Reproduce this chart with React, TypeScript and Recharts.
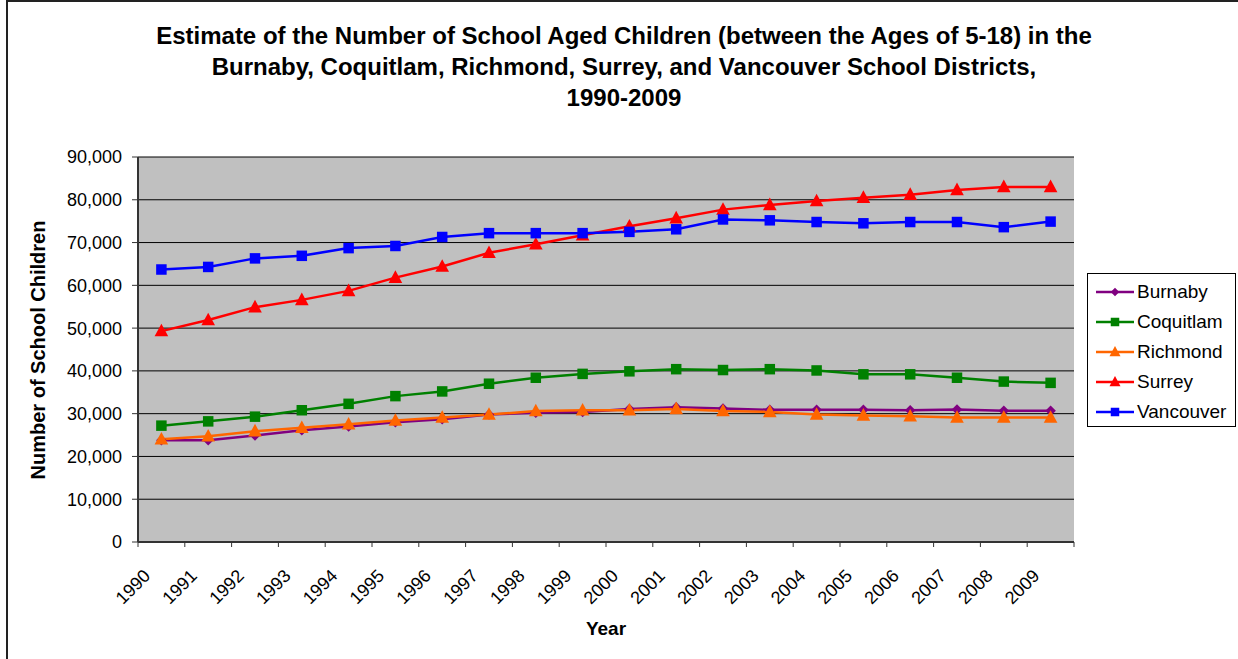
import { LineChart, Line, XAxis, YAxis, CartesianGrid } from 'recharts'

const years = [
  '1990', '1991', '1992', '1993', '1994', '1995', '1996', '1997', '1998', '1999',
  '2000', '2001', '2002', '2003', '2004', '2005', '2006', '2007', '2008', '2009',
]

const burnaby = [23800, 23800, 24900, 26100, 27000, 28000, 28700, 29800, 30200, 30400, 31100, 31500, 31200, 30900, 30900, 30900, 30800, 31000, 30700, 30700]
const coquitlam = [27200, 28200, 29300, 30800, 32300, 34100, 35200, 37000, 38400, 39300, 39900, 40400, 40200, 40400, 40100, 39200, 39200, 38400, 37500, 37200]
const richmond = [24000, 24700, 25900, 26700, 27500, 28400, 29100, 29800, 30600, 30800, 30800, 31100, 30600, 30400, 29800, 29600, 29400, 29100, 29100, 29100]
const surrey = [49300, 51900, 54900, 56600, 58700, 61800, 64400, 67600, 69600, 71700, 73800, 75700, 77700, 78800, 79700, 80500, 81200, 82300, 83000, 83000]
const vancouver = [63700, 64300, 66300, 66900, 68700, 69200, 71300, 72200, 72200, 72200, 72500, 73100, 75400, 75200, 74800, 74500, 74800, 74800, 73600, 74900]

const yTicks = [0, 10000, 20000, 30000, 40000, 50000, 60000, 70000, 80000, 90000]

type Shape = 'diamond' | 'square' | 'triangle'

const seriesList: { name: string; values: number[]; color: string; shape: Shape }[] = [
  { name: 'Burnaby', values: burnaby, color: '#800080', shape: 'diamond' },
  { name: 'Coquitlam', values: coquitlam, color: '#008000', shape: 'square' },
  { name: 'Richmond', values: richmond, color: '#FF6600', shape: 'triangle' },
  { name: 'Surrey', values: surrey, color: '#FF0000', shape: 'triangle' },
  { name: 'Vancouver', values: vancouver, color: '#0000FF', shape: 'square' },
]

const data = years.map((year, i) => {
  const row: Record<string, string | number> = { year }
  seriesList.forEach((s) => { row[s.name] = s.values[i] })
  return row
})

const FONT = "Arial, 'Liberation Sans', sans-serif"
const CHART_W = 1238
const CHART_H = 659
const MARGIN = { top: 157, right: 164, bottom: 17, left: 0 }
const Y_W = 138
const PLOT_W = CHART_W - MARGIN.left - MARGIN.right - Y_W
const HALF = PLOT_W / years.length / 2

function Marker({ shape, color, cx, cy, big = true }: { shape: Shape; color: string; cx: number; cy: number; big?: boolean }) {
  const k = big ? 1.05 : 0.85
  if (shape === 'square') {
    const s = 5 * k
    return <rect x={cx - s} y={cy - s} width={s * 2} height={s * 2} fill={color} />
  }
  if (shape === 'triangle') {
    const w = 6.5 * k
    return <polygon points={`${cx},${cy - 7 * k} ${cx + w},${cy + 5 * k} ${cx - w},${cy + 5 * k}`} fill={color} />
  }
  const d = 5 * k
  return <polygon points={`${cx},${cy - d} ${cx + d},${cy} ${cx},${cy + d} ${cx - d},${cy}`} fill={color} />
}

function YearTick(props: any) {
  const { x, y, payload, index } = props
  const last = index === years.length - 1
  const ax = x - 10
  const ay = y + 35
  return (
    <g>
      <line x1={x - HALF} y1={y} x2={x - HALF} y2={y + 5} stroke="#333" />
      {last && <line x1={x + HALF} y1={y} x2={x + HALF} y2={y + 5} stroke="#333" />}
      <text
        x={ax}
        y={ay}
        textAnchor="end"
        transform={`rotate(-45 ${ax} ${ay})`}
        fontSize={18}
        fontFamily={FONT}
        fill="#000"
      >
        {payload.value}
      </text>
    </g>
  )
}

function LegendBox() {
  return (
    <div style={{
      position: 'absolute', left: 1087, top: 273, width: 147, height: 149,
      border: '1px solid #000', background: '#fff', paddingTop: 3, boxSizing: 'content-box',
    }}>
      {seriesList.map((s) => (
        <div key={s.name} style={{ height: 30, display: 'flex', alignItems: 'center' }}>
          <svg width={48} height={16} style={{ marginLeft: 7 }}>
            <line x1={1} y1={8} x2={39} y2={8} stroke={s.color} strokeWidth={2.5} />
            <Marker shape={s.shape} color={s.color} cx={20} cy={8} big={false} />
          </svg>
          <span style={{ fontFamily: FONT, fontSize: 19, color: '#000', marginLeft: -6 }}>{s.name}</span>
        </div>
      ))}
    </div>
  )
}

export default function App() {
  return (
    <div style={{ position: 'fixed', left: 0, top: 0, width: CHART_W, height: CHART_H, background: '#fff', overflow: 'hidden' }}>
      <div style={{ position: 'absolute', left: 6, top: 0, width: 1300, height: 700, border: '2px solid #222' }} />
      <div style={{
        position: 'absolute', left: 118, width: 1012, top: 20, textAlign: 'center',
        fontFamily: FONT, fontWeight: 'bold', fontSize: 24, lineHeight: '31px', color: '#000',
      }}>
        Estimate of the Number of School Aged Children (between the Ages of 5-18) in the<br />
        Burnaby, Coquitlam, Richmond, Surrey, and Vancouver School Districts,<br />
        1990-2009
      </div>
      <LineChart width={CHART_W} height={CHART_H} data={data} margin={MARGIN} style={{ position: 'absolute', left: 0, top: 0 }}>
        <CartesianGrid vertical={false} stroke="#000" fill="#C0C0C0" fillOpacity={1} />
        <XAxis
          dataKey="year"
          height={100}
          padding={{ left: HALF, right: HALF }}
          interval={0}
          tickSize={0}
          tickMargin={0}
          tickLine={false}
          axisLine={{ stroke: '#333', strokeWidth: 2 }}
          tick={<YearTick />}
        />
        <YAxis
          width={Y_W}
          domain={[0, 90000]}
          ticks={yTicks}
          interval={0}
          tickFormatter={(v: number) => v.toLocaleString('en-US')}
          tick={{ fill: '#000', fontSize: 18, fontFamily: FONT }}
          tickSize={6}
          tickMargin={10}
          tickLine={{ stroke: '#333' }}
          axisLine={{ stroke: '#333', strokeWidth: 2 }}
        />
        <YAxis
          yAxisId="frame"
          orientation="right"
          width={0}
          domain={[0, 90000]}
          tick={false}
          tickLine={false}
          axisLine={{ stroke: '#808080', strokeWidth: 2 }}
        />
        {seriesList.map((s) => (
          <Line
            key={s.name}
            type="linear"
            dataKey={s.name}
            stroke={s.color}
            strokeWidth={2.5}
            isAnimationActive={false}
            dot={(p: any) => <Marker key={`${s.name}-${p.index}`} shape={s.shape} color={s.color} cx={p.cx} cy={p.cy} />}
            activeDot={false}
          />
        ))}
      </LineChart>
      <div style={{
        position: 'absolute', left: 606, top: 629, transform: 'translate(-50%, -50%)',
        fontFamily: FONT, fontWeight: 'bold', fontSize: 19, color: '#000',
      }}>Year</div>
      <div style={{
        position: 'absolute', left: 38, top: 350, transform: 'translate(-50%, -50%) rotate(-90deg)',
        fontFamily: FONT, fontWeight: 'bold', fontSize: 20, color: '#000', whiteSpace: 'nowrap',
      }}>Number of School Children</div>
      <LegendBox />
    </div>
  )
}
